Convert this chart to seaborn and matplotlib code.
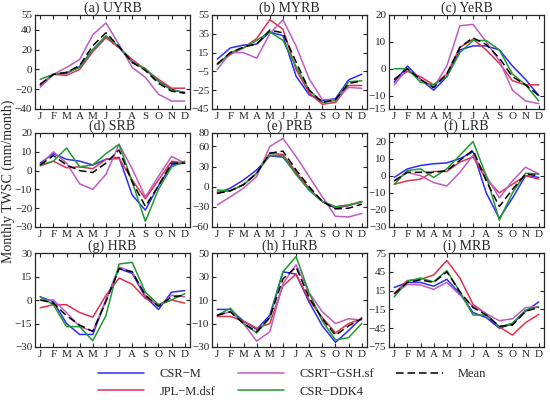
import numpy as np
import pandas as pd
import matplotlib
matplotlib.use("Agg")
import matplotlib.pyplot as plt
import seaborn as sns

# month labels and product names
months = ["J", "F", "M", "A", "M", "J", "J", "A", "S", "O", "N", "D"]
products = ["CSR\u2212M", "JPL\u2212M.dsf", "CSRT\u2212GSH.sf", "CSR\u2212DDK4", "Mean"]

# monthly TWSC per basin (mm/month), order: CSR-M, JPL-M.dsf, CSRT-GSH.sf, CSR-DDK4, Mean
uyrb = [
    [-16, -5, -4, 3, 20, 33, 22, 8, 0, -12, -20, -24],
    [-15, -5, -6, 0, 18, 32, 22, 10, 0, -10, -19, -19],
    [-18, -5, 2, 10, 35, 47, 25, 2, -8, -25, -32, -32],
    [-10, -5, -3, 2, 20, 34, 23, 7, 1, -12, -21, -23],
    [-15, -5, -3, 4, 24, 37, 23, 7, -1, -14, -22, -24],
]
myrb = [
    [8, 20, 23, 24, 37, 33, -10, -30, -36, -34, -14, -8],
    [3, 13, 20, 30, 50, 40, -3, -28, -40, -38, -20, -20],
    [-3, 15, 15, 9, 35, 50, 22, -13, -35, -35, -22, -23],
    [2, 15, 20, 28, 37, 28, 0, -25, -38, -36, -16, -15],
    [3, 15, 21, 24, 39, 36, 5, -25, -38, -35, -18, -15],
]
yerb = [
    [-5, 1, -4, -8, -3, 7, 8.5, 8.5, 7, 1, -4, -10],
    [-4, -1, -3, -6, -2, 8, 11, 7, 2, -4.5, -6, -6],
    [-6, 0, -4, -7, 1, 16, 16.5, 10, 3, -8, -12, -13],
    [0, 0, -5, -6, -3, 6, 10.5, 10.5, 7, -2, -6, -12],
    [-4, 0, -4, -7, -2, 8, 11.5, 9, 4, -3, -6, -10],
]
srb = [
    [4, 9, 6, 5, 3, 6, 7, -13, -21, -8, 3, 4],
    [2.5, 5, 1.5, 2, 1, 6, 6.5, -5, -15, -5, 5, 4],
    [3, 10, 4, -7, -10, -2, 14, 1, -14, -3, 7.5, 4],
    [3, 5, 12, 2, 3, 9, 14, -6, -27, -10, 2, 5],
    [3, 8, 3, 0, -1, 4, 11, -6, -19, -8, 4, 4],
]
prb = [
    [-10, -2, 10, 25, 46, 44, 20, -5, -22, -32, -28, -22],
    [-8, -6, 3, 20, 50, 48, 22, -3, -22, -30, -28, -22],
    [-27, -15, -2, 15, 60, 72, 45, 15, -15, -44, -45, -40],
    [-5, -6, 3, 20, 47, 46, 18, -5, -22, -30, -27, -23],
    [-10, -6, 3, 20, 50, 53, 25, 0, -22, -33, -32, -26],
]
lrb = [
    [-1, 4, 6, 7, 7.5, 10, 14, -10, -25, -13, 0, -1],
    [-5, -3, -2, 2.5, 2.5, 8, 11, -2, -10, -5, 0, -2],
    [-3, 2, 0, -4, -6, 2, 12, 0, -13, -3, 5, 1],
    [-5, 3, 4, -1, 4, 12, 20, 0, -26, -10, 1.5, 1],
    [-3, 2, 2, 2, 3, 9, 15, -3, -18, -8, 1, 0],
]
hrb = [
    [2, -1, -15, -22, -22, 0, 20, 17, 2, -6, 5, 6],
    [-5, -3, -3, -8, -11, 3, 14, 10, 1, -3, 0, -2],
    [0, 0, -8, -17, -20, 0, 21, 18, 3, -4, 3, 2],
    [2, -3, -17, -17, -26, -10, 23, 24, 5, -3, 0, 4],
    [0, -2, -10, -16, -20, -1, 20, 18, 3, -4, 2, 3],
]
hurb = [
    [2, 2, -8, -15, -3, 34, 32, 8, -12, -26, -16, -5],
    [-4, -4, -8, -14, -10, 22, 32, 10, -5, -18, -10, -6],
    [-3, 0, -10, -25, -17, 24, 40, 16, 0, -10, -6, -7],
    [-3, 3, -10, -18, -5, 34, 47, 16, -8, -24, -22, -10],
    [-3, 0, -10, -17, -5, 28, 38, 12, -6, -20, -12, -6],
]
mrb = [
    [20, 28, 28, 22, 33, 10, -20, -28, -45, -38, -18, -3],
    [10, 31, 33, 40, 63, 35, -7, -22, -43, -56, -36, -23],
    [10, 25, 24, 17, 28, 8, -10, -22, -33, -30, -12, -11],
    [5, 30, 35, 29, 47, 13, -24, -24, -43, -37, -16, -11],
    [10, 28, 32, 28, 45, 13, -12, -24, -42, -40, -18, -12],
]

panels = [
    ("(a) UYRB", uyrb, (-40, 55), [-40, -20, 0, 20, 40, 55]),
    ("(b) MYRB", myrb, (-45, 55), [-45, -25, -5, 15, 35, 55]),
    ("(c) YeRB", yerb, (-15, 20), [-15, -10, 0, 10, 20]),
    ("(d) SRB", srb, (-30, 20), [-30, -20, -10, 0, 10, 20]),
    ("(e) PRB", prb, (-60, 80), [-60, -30, 0, 30, 60, 80]),
    ("(f) LRB", lrb, (-30, 25), [-30, -20, -10, 0, 10, 20]),
    ("(g) HRB", hrb, (-30, 30), [-30, -15, 0, 15, 30]),
    ("(h) HuRB", hurb, (-30, 50), [-30, -10, 10, 30, 50]),
    ("(i) MRB", mrb, (-75, 75), [-75, -45, -15, 15, 45, 75]),
]

colors = ["#2b2bff", "#e0304f", "#c05cc0", "#1f9a2f", "black"]
styles = ["-", "-", "-", "-", (0, (5, 2.5))]

sns.set_style("ticks")
plt.rcParams["font.family"] = ["Liberation Serif", "DejaVu Serif"]
plt.rcParams["xtick.direction"] = "in"
plt.rcParams["ytick.direction"] = "in"

W, H = 550, 403
fig = plt.figure(figsize=(5.5, 4.03), dpi=100)

lefts = [35, 212, 389]
tops = [15, 133, 253]
aw, ah = 155, 94

x = np.arange(12)
for i, (title, data, ylim, yt) in enumerate(panels):
    r, c = divmod(i, 3)
    ax = fig.add_axes([lefts[c] / W, 1 - (tops[r] + ah) / H, aw / W, ah / H])
    for k in range(5):
        df = pd.DataFrame({"month": x, "twsc": data[k]})
        sns.lineplot(data=df, x="month", y="twsc", ax=ax, color=colors[k],
                     linestyle=styles[k], linewidth=1.1, label=products[k],
                     legend=False)
    ax.set_xlim(-0.4, 11.4)
    ax.set_ylim(*ylim)
    ax.set_xticks(x)
    ax.set_xticklabels(months)
    ax.set_yticks(yt)
    ax.set_xlabel("")
    ax.set_ylabel("")
    ax.set_title(title, fontsize=10, pad=2)
    ax.tick_params(axis="both", labelsize=8, length=3, width=0.8, pad=2,
                   top=True, right=True)
    for s in ax.spines.values():
        s.set_linewidth(0.9)

fig.text(8 / W, 1 - 181 / H, "Monthly TWSC (mm/month)", rotation=90,
         ha="center", va="center", fontsize=10)

handles, labels = ax.get_legend_handles_labels()
fig.legend(handles, labels, ncol=3, loc="center", frameon=False,
           bbox_to_anchor=(292 / W, 1 - 383 / H), fontsize=9,
           handlelength=3.7, handletextpad=1.2, columnspacing=1.8,
           labelspacing=0.45)

fig.savefig("out.png", dpi=100)
